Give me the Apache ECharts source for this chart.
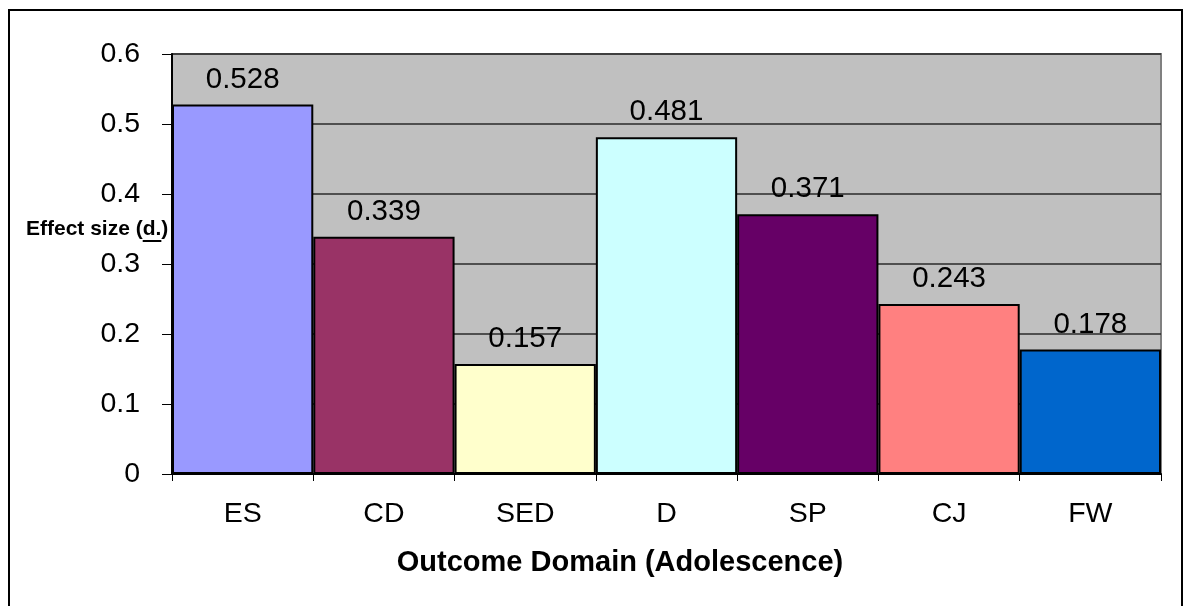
<!DOCTYPE html>
<html>
<head>
<meta charset="utf-8">
<script src="https://cdn.jsdelivr.net/npm/echarts@6/dist/echarts.min.js"></script>
<style>
  html, body { margin: 0; padding: 0; background: #ffffff; }
  #chart { width: 1183px; height: 606px; }
</style>
</head>
<body>
<div id="chart"></div>
<script>
// Outcome domains and their effect sizes
const domains = ['ES', 'CD', 'SED', 'D', 'SP', 'CJ', 'FW'];
const effectSizes = [0.528, 0.339, 0.157, 0.481, 0.371, 0.243, 0.178];
const barColors = ['#9999FF', '#993366', '#FFFFCC', '#CCFFFF', '#660066', '#FF8080', '#0066CC'];

const FONT = '"Liberation Sans", Arial, sans-serif';

// Measure text so the underline under "d." lands in the right place
const measure = (txt, font) => {
  const c = document.createElement('canvas').getContext('2d');
  c.font = font;
  return c.measureText(txt).width;
};
const nameFont = 'bold 21px "Liberation Sans"';
const preW = measure('Effect size (', nameFont);
const dW = measure('d.', nameFont);
const nameX = 26, nameY = 229;

const chart = echarts.init(document.getElementById('chart'), null, { renderer: 'canvas' });

chart.setOption({
  backgroundColor: '#ffffff',
  animation: false,
  grid: {
    left: 172, right: 22, top: 54, bottom: 132,
    show: true,
    backgroundColor: '#C0C0C0',
    borderColor: '#808080',
    borderWidth: 2
  },
  xAxis: {
    type: 'category',
    data: domains,
    boundaryGap: true,
    axisLine: { show: true, lineStyle: { color: '#000', width: 2 } },
    axisTick: { show: true, length: 7, lineStyle: { color: '#000', width: 1 } },
    axisLabel: { color: '#000', fontSize: 28.5, fontFamily: FONT, margin: 26 },
    splitLine: { show: false }
  },
  yAxis: {
    type: 'value',
    min: 0, max: 0.6, interval: 0.1,
    axisLine: { show: true, lineStyle: { color: '#000', width: 2 } },
    axisTick: { show: true, length: 10, lineStyle: { color: '#000', width: 1 } },
    axisLabel: {
      color: '#000', fontSize: 28.5, fontFamily: FONT, margin: 32,
      formatter: v => String(Math.round(v * 10) / 10)
    },
    splitLine: { show: true, lineStyle: { color: '#2a2a2a', width: 1.5 } }
  },
  series: [{
    type: 'bar',
    barWidth: '100%',
    data: effectSizes.map((v, i) => ({ value: v, itemStyle: { color: barColors[i] } })),
    itemStyle: { borderColor: '#000', borderWidth: 2 },
    label: {
      show: true,
      position: 'top',
      distance: 10,
      color: '#000',
      fontSize: 29.5,
      fontFamily: FONT,
      formatter: p => p.value.toFixed(3)
    }
  }],
  graphic: [
    // outer chart frame
    {
      type: 'rect', z: 100, silent: true,
      shape: { x: 9, y: 10, width: 1173, height: 610 },
      style: { fill: 'none', stroke: '#000', lineWidth: 2 }
    },
    // y axis title with underlined "d."
    {
      type: 'text', z: 100, x: nameX, y: nameY,
      style: { text: 'Effect size (d.)', font: nameFont, fill: '#000', textVerticalAlign: 'middle' }
    },
    {
      type: 'rect', z: 100,
      shape: { x: nameX + preW, y: nameY + 11, width: dW, height: 2 },
      style: { fill: '#000' }
    },
    // x axis title
    {
      type: 'text', z: 100, x: 620, y: 563,
      style: {
        text: 'Outcome Domain (Adolescence)',
        font: 'bold 29px "Liberation Sans"',
        fill: '#000',
        textAlign: 'center',
        textVerticalAlign: 'middle'
      }
    }
  ]
});
</script>
</body>
</html>
